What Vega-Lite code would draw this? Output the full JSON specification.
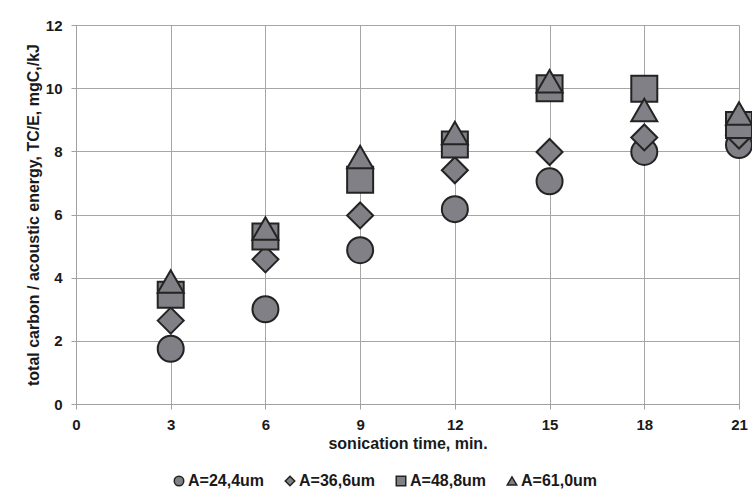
{
  "$schema": "https://vega.github.io/schema/vega-lite/v6.json",
  "width": 663,
  "height": 379,
  "autosize": {"type": "none"},
  "padding": {"left": 76, "top": 25, "right": 13, "bottom": 91},
  "background": "white",
  "data": {
    "values": [
      {"t": 3, "v": 1.75, "s": "A=24,4um"},
      {"t": 6, "v": 3.0, "s": "A=24,4um"},
      {"t": 9, "v": 4.87, "s": "A=24,4um"},
      {"t": 12, "v": 6.17, "s": "A=24,4um"},
      {"t": 15, "v": 7.05, "s": "A=24,4um"},
      {"t": 18, "v": 7.98, "s": "A=24,4um"},
      {"t": 21, "v": 8.2, "s": "A=24,4um"},
      {"t": 3, "v": 2.64, "s": "A=36,6um"},
      {"t": 6, "v": 4.58, "s": "A=36,6um"},
      {"t": 9, "v": 5.97, "s": "A=36,6um"},
      {"t": 12, "v": 7.4, "s": "A=36,6um"},
      {"t": 15, "v": 7.98, "s": "A=36,6um"},
      {"t": 18, "v": 8.44, "s": "A=36,6um"},
      {"t": 21, "v": 8.5, "s": "A=36,6um"},
      {"t": 3, "v": 3.46, "s": "A=48,8um"},
      {"t": 6, "v": 5.3, "s": "A=48,8um"},
      {"t": 9, "v": 7.1, "s": "A=48,8um"},
      {"t": 12, "v": 8.22, "s": "A=48,8um"},
      {"t": 15, "v": 10.0, "s": "A=48,8um"},
      {"t": 18, "v": 9.98, "s": "A=48,8um"},
      {"t": 21, "v": 8.83, "s": "A=48,8um"},
      {"t": 3, "v": 3.88, "s": "A=61,0um"},
      {"t": 6, "v": 5.56, "s": "A=61,0um"},
      {"t": 9, "v": 7.82, "s": "A=61,0um"},
      {"t": 12, "v": 8.58, "s": "A=61,0um"},
      {"t": 15, "v": 10.22, "s": "A=61,0um"},
      {"t": 18, "v": 9.31, "s": "A=61,0um"},
      {"t": 21, "v": 9.2, "s": "A=61,0um"}
    ]
  },
  "mark": {
    "type": "point",
    "filled": true,
    "fill": "#808086",
    "stroke": "#232323",
    "strokeWidth": 2,
    "opacity": 1,
    "size": 676
  },
  "encoding": {
    "x": {
      "field": "t",
      "type": "quantitative",
      "scale": {"domain": [0, 21], "nice": false, "zero": true},
      "axis": {
        "values": [0, 3, 6, 9, 12, 15, 18, 21],
        "title": "sonication time, min.",
        "grid": true,
        "labelFlush": false,
        "labelPadding": 8,
        "titlePadding": 3
      }
    },
    "y": {
      "field": "v",
      "type": "quantitative",
      "scale": {"domain": [0, 12], "nice": false},
      "axis": {
        "values": [0, 2, 4, 6, 8, 10, 12],
        "title": "total carbon / acoustic energy,  TC/E, mgC,/kJ",
        "grid": true,
        "labelPadding": 9,
        "titlePadding": 4
      }
    },
    "shape": {
      "field": "s",
      "type": "nominal",
      "scale": {
        "domain": ["A=24,4um", "A=36,6um", "A=48,8um", "A=61,0um"],
        "range": ["circle", "diamond", "square", "triangle-up"]
      },
      "legend": {
        "title": null,
        "orient": "none",
        "direction": "horizontal",
        "columns": 4,
        "legendX": 95,
        "legendY": 448,
        "symbolSize": 90,
        "labelOffset": 1,
        "columnPadding": 17,
        "encode": {
          "symbols": {
            "update": {
              "fill": {"value": "#808086"},
              "stroke": {"value": "#232323"},
              "strokeWidth": {"value": 1},
              "opacity": {"value": 1}
            }
          }
        }
      }
    }
  },
  "config": {
    "font": "Liberation Sans",
    "view": {"stroke": null},
    "axis": {
      "domainColor": "#a0a0a0",
      "gridColor": "#a6a6a6",
      "tickColor": "#a0a0a0",
      "tickSize": 5,
      "labelFont": "Liberation Sans",
      "labelFontSize": 15,
      "labelFontWeight": "bold",
      "labelColor": "#1a1a1a",
      "titleFont": "Liberation Sans",
      "titleFontSize": 16,
      "titleFontWeight": "bold",
      "titleColor": "#1a1a1a"
    },
    "legend": {
      "labelFont": "Liberation Sans",
      "labelFontSize": 16,
      "labelFontWeight": "bold",
      "labelColor": "#1a1a1a"
    }
  }
}
